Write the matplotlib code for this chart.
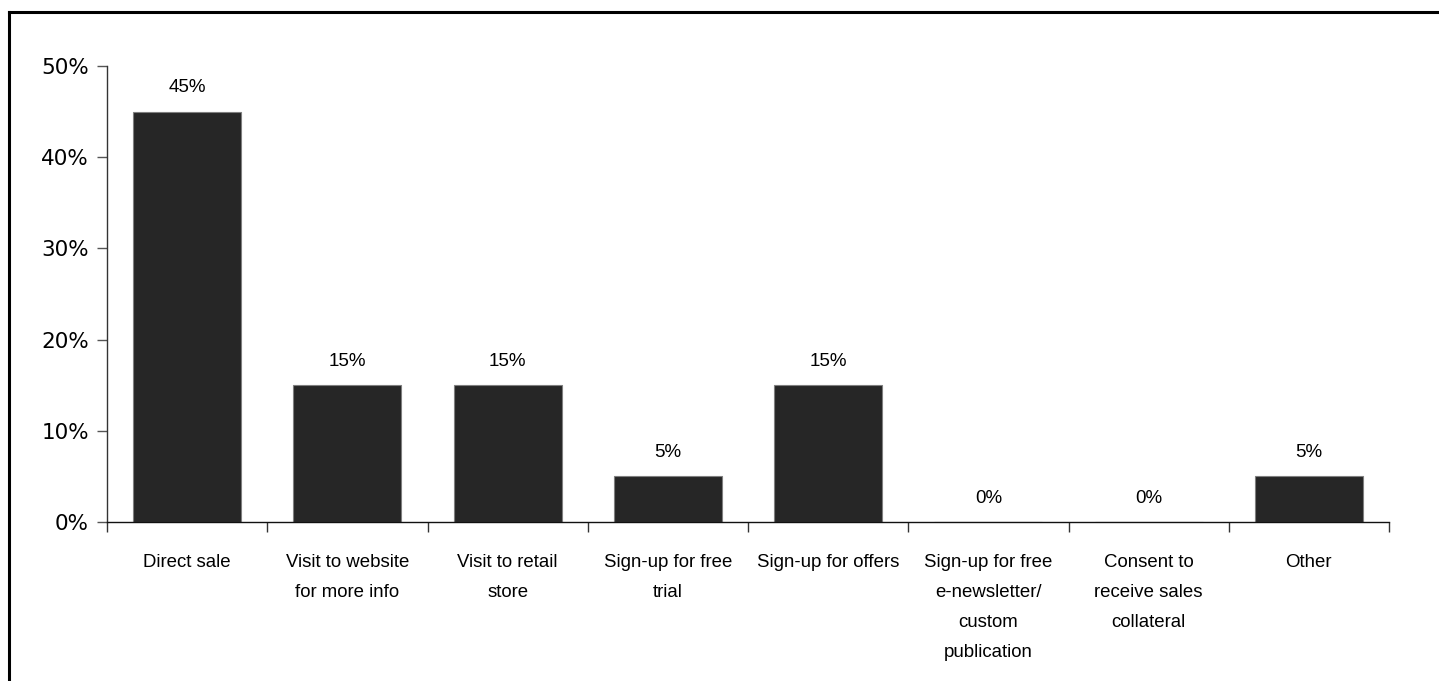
import matplotlib
matplotlib.use('Agg')
import matplotlib.pyplot as plt
from matplotlib.lines import Line2D
from matplotlib.ticker import FixedLocator, PercentFormatter

categories = [
    "Direct sale",
    "Visit to website\nfor more info",
    "Visit to retail\nstore",
    "Sign-up for free\ntrial",
    "Sign-up for offers",
    "Sign-up for free\ne-newsletter/\ncustom\npublication",
    "Consent to\nreceive sales\ncollateral",
    "Other",
]
shares = [0.45, 0.15, 0.15, 0.05, 0.15, 0.0, 0.0, 0.05]
y_ticks = [0.0, 0.1, 0.2, 0.3, 0.4, 0.5]

label_font = ['Liberation Sans Narrow', 'Liberation Sans', 'DejaVu Sans']
tick_font = ['DejaVu Sans']

W, H, DPI = 1439, 681, 100
fig = plt.figure(figsize=(W / DPI, H / DPI), dpi=DPI)
ax = fig.add_axes([107 / W, 1 - 522 / H, (1389 - 107) / W, (522 - 66) / H])

x = range(len(categories))
bars = ax.bar(x, shares, width=0.675, color='#262626', edgecolor='#7f7f7f', linewidth=0.8)

for b, v in zip(bars, shares):
    ax.annotate(f"{v:.0%}", (b.get_x() + b.get_width() / 2, v),
                xytext=(0, 11), textcoords='offset points',
                ha='center', va='bottom', fontsize=13.5, family=label_font)

ax.set_xlim(-0.5, len(categories) - 0.5)
ax.set_ylim(0, 0.5)

# category names sit between the boundary ticks
ax.set_xticks(list(x))
ax.set_xticklabels(categories, fontsize=13.4, family=label_font, linespacing=2.0)
ax.xaxis.set_minor_locator(FixedLocator([i - 0.5 for i in range(len(categories) + 1)]))
ax.tick_params(axis='x', which='major', length=0, pad=23)
ax.tick_params(axis='x', which='minor', length=7, width=1, color='#333333', direction='out')

ax.set_yticks(y_ticks)
ax.yaxis.set_major_formatter(PercentFormatter(1.0, decimals=0))
for t in ax.get_yticklabels():
    t.set_family(tick_font)
ax.tick_params(axis='y', length=7, width=1, color='#555555', labelsize=15.5, pad=6)

for side in ('top', 'right'):
    ax.spines[side].set_visible(False)
ax.spines['left'].set_color('#333333')
ax.spines['bottom'].set_color('#111111')
ax.spines['left'].set_linewidth(1)
ax.spines['bottom'].set_linewidth(1)

# frame on the left and top edges of the figure
fig.add_artist(Line2D([9 / W, 9 / W], [0, 1 - 12 / H], color='black', linewidth=2.2,
                      transform=fig.transFigure))
fig.add_artist(Line2D([9 / W, 1], [1 - 12 / H, 1 - 12 / H], color='black', linewidth=2.2,
                      transform=fig.transFigure))

fig.savefig('out.png', dpi=DPI, facecolor='white')
